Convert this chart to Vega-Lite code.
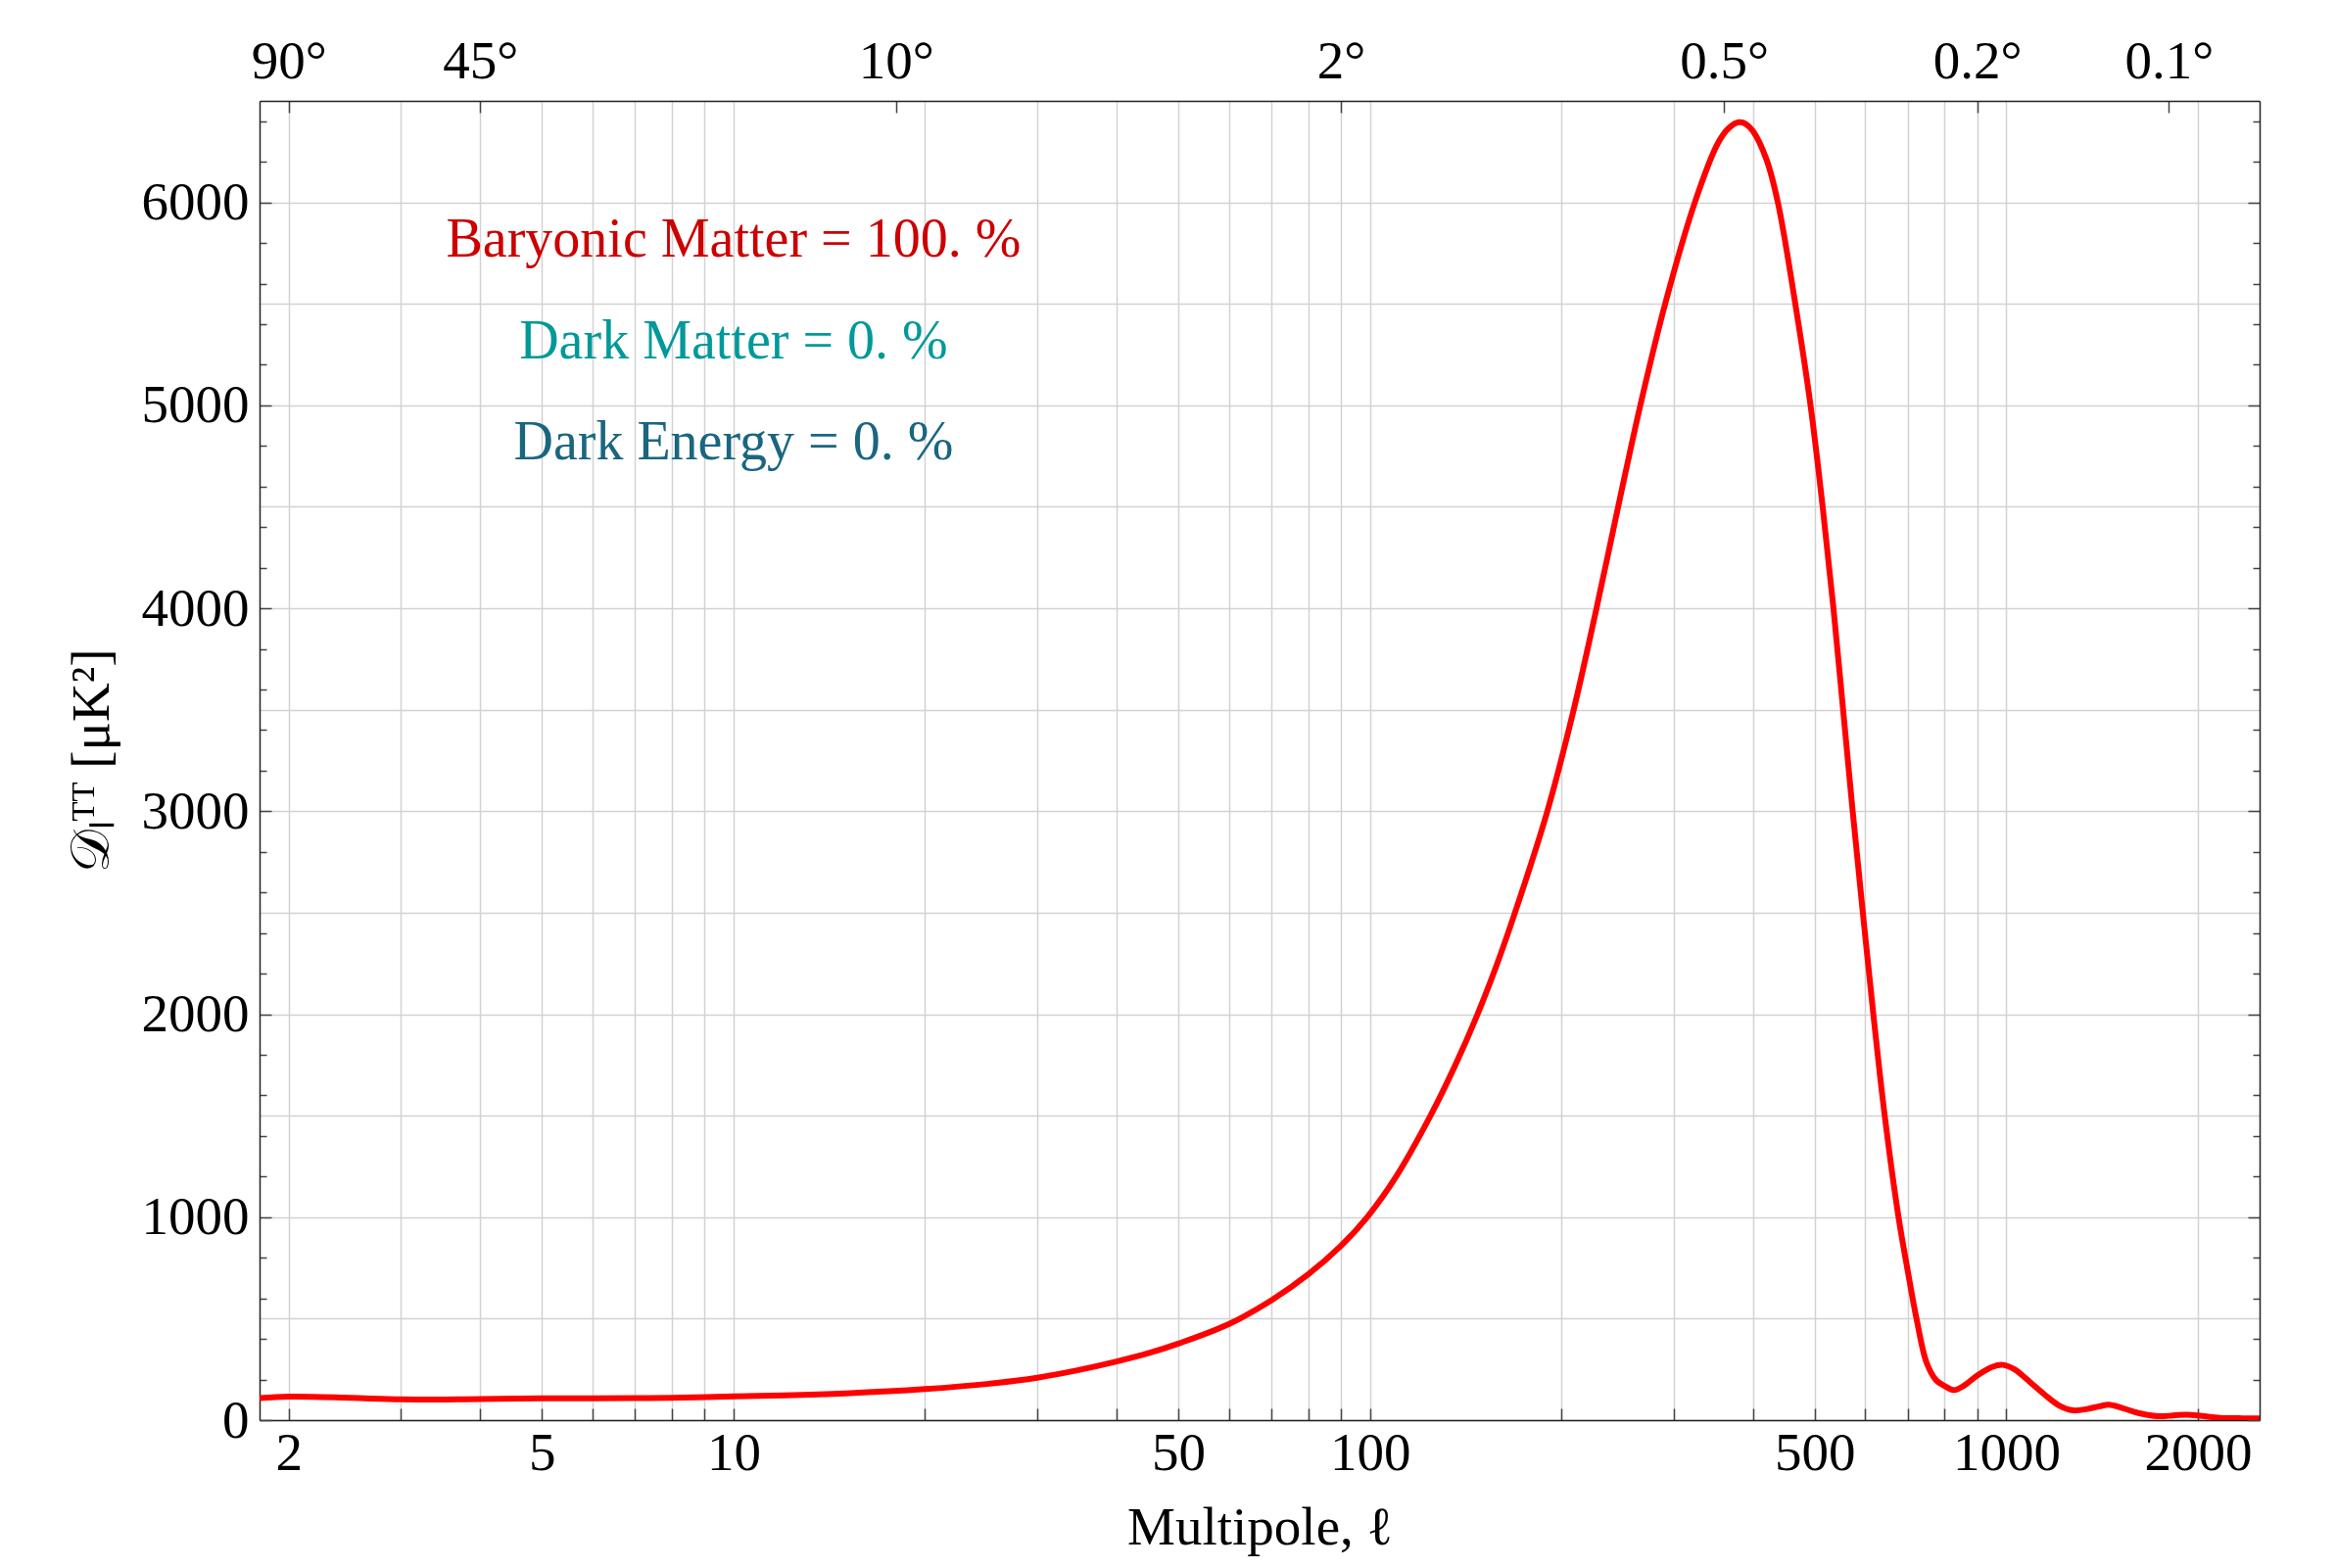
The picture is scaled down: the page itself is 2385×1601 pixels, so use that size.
{
  "$schema": "https://vega.github.io/schema/vega-lite/v6.json",
  "width": 2042,
  "height": 1347,
  "autosize": {"type": "none"},
  "padding": {"left": 265, "top": 103, "right": 78, "bottom": 151},
  "background": "white",
  "config": {
    "font": "Liberation Serif",
    "view": {"stroke": null}
  },
  "datasets": {
    "cl": [
      {"l": 1.8, "D": 108}, {"l": 2, "D": 116}, {"l": 2.5, "D": 110}, {"l": 3, "D": 102},
      {"l": 4, "D": 104}, {"l": 5, "D": 107}, {"l": 6, "D": 107}, {"l": 7, "D": 108},
      {"l": 8, "D": 110}, {"l": 10, "D": 117}, {"l": 12, "D": 122}, {"l": 15, "D": 132},
      {"l": 20, "D": 153}, {"l": 25, "D": 178}, {"l": 30, "D": 209}, {"l": 35, "D": 248},
      {"l": 40, "D": 289}, {"l": 45, "D": 331}, {"l": 50, "D": 377}, {"l": 60, "D": 473},
      {"l": 70, "D": 590}, {"l": 80, "D": 718}, {"l": 90, "D": 858}, {"l": 99, "D": 1000},
      {"l": 110, "D": 1201}, {"l": 124.5, "D": 1500}, {"l": 136, "D": 1745}, {"l": 147.6, "D": 2000},
      {"l": 158, "D": 2238}, {"l": 169, "D": 2500}, {"l": 190, "D": 3000}, {"l": 209, "D": 3500},
      {"l": 227, "D": 4000}, {"l": 245.5, "D": 4500}, {"l": 266, "D": 5000}, {"l": 291, "D": 5500},
      {"l": 324, "D": 6000}, {"l": 352, "D": 6290}, {"l": 366, "D": 6365}, {"l": 380, "D": 6395},
      {"l": 390, "D": 6385}, {"l": 400, "D": 6350}, {"l": 420, "D": 6210}, {"l": 437.5, "D": 6000},
      {"l": 466, "D": 5500}, {"l": 492.4, "D": 5000}, {"l": 514.5, "D": 4500}, {"l": 535, "D": 4000},
      {"l": 554, "D": 3500}, {"l": 573.5, "D": 3000}, {"l": 595, "D": 2500}, {"l": 618, "D": 2000},
      {"l": 644, "D": 1500}, {"l": 677, "D": 1000}, {"l": 700, "D": 735}, {"l": 722.5, "D": 500},
      {"l": 749, "D": 285}, {"l": 776, "D": 196}, {"l": 800, "D": 168}, {"l": 828, "D": 148},
      {"l": 860, "D": 172}, {"l": 900, "D": 220}, {"l": 950, "D": 262}, {"l": 988, "D": 272},
      {"l": 1030, "D": 250}, {"l": 1067, "D": 212}, {"l": 1110, "D": 165}, {"l": 1158, "D": 116},
      {"l": 1210, "D": 72}, {"l": 1273, "D": 48}, {"l": 1340, "D": 55}, {"l": 1400, "D": 68},
      {"l": 1449, "D": 76}, {"l": 1520, "D": 60}, {"l": 1612, "D": 35}, {"l": 1730, "D": 19},
      {"l": 1830, "D": 23}, {"l": 1924, "D": 27}, {"l": 2030, "D": 20}, {"l": 2165, "D": 11},
      {"l": 2350, "D": 9}, {"l": 2500, "D": 8}
    ],
    "notes": [
      {"l": 10, "D": 5733, "component": "Baryonic Matter", "label": "Baryonic Matter = 100. %"},
      {"l": 10, "D": 5233, "component": "Dark Matter", "label": "Dark Matter = 0. %"},
      {"l": 10, "D": 4733, "component": "Dark Energy", "label": "Dark Energy = 0. %"}
    ]
  },
  "layer": [
    {
      "data": {"name": "cl"},
      "mark": {"type": "line", "color": "#ff0000", "strokeWidth": 6, "interpolate": "catmull-rom", "clip": true},
      "encoding": {
        "x": {
          "field": "l", "type": "quantitative",
          "scale": {"type": "log", "domain": [1.8, 2500], "nice": false},
          "axis": {
            "orient": "bottom",
            "values": [2,3,4,5,6,7,8,9,10,20,30,40,50,60,70,80,90,100,200,300,400,500,600,700,800,900,1000,2000],
            "format": "d",
            "labelExpr": "indexof([2,5,10,50,100,500,1000,2000], datum.value) >= 0 ? datum.label : ''",
            "labelFont": "Liberation Serif", "labelFontSize": 55, "labelColor": "#000000",
            "labelPadding": 19, "labelOverlap": false, "labelFlush": false, "labelBound": false,
            "tickSize": -12, "tickColor": "#444444", "tickWidth": 1.5,
            "domainColor": "#222222", "domainWidth": 1.5,
            "grid": true, "gridColor": "#d2d2d2", "gridWidth": 1.5,
            "title": "Multipole, ℓ", "titleFont": "Liberation Serif", "titleFontSize": 55,
            "titleFontWeight": "normal", "titleColor": "#000000", "titlePadding": 22
          }
        },
        "y": {
          "field": "D", "type": "quantitative",
          "scale": {"domain": [0, 6500], "nice": false, "zero": false},
          "axis": {
            "orient": "left",
            "values": [0,200,400,500,600,800,1000,1200,1400,1500,1600,1800,2000,2200,2400,2500,2600,2800,3000,3200,3400,3500,3600,3800,4000,4200,4400,4500,4600,4800,5000,5200,5400,5500,5600,5800,6000,6200,6400],
            "format": "d",
            "labelExpr": "datum.value % 1000 === 0 ? datum.label : ''",
            "labelFont": "Liberation Serif", "labelFontSize": 55, "labelColor": "#000000",
            "labelPadding": 23, "labelOverlap": false, "labelFlush": false, "labelBound": false,
            "tickSize": {"condition": {"test": "datum.value % 1000 === 0", "value": -12}, "value": -7},
            "tickOpacity": {"condition": {"test": "datum.value % 200 === 0", "value": 1}, "value": 0},
            "tickColor": "#444444", "tickWidth": 1.5,
            "domainColor": "#222222", "domainWidth": 1.5,
            "grid": true, "gridColor": "#d2d2d2", "gridWidth": 1.5,
            "gridOpacity": {"condition": {"test": "datum.value % 500 === 0", "value": 1}, "value": 0},
            "title": "𝒟ₗᵀᵀ [μK²]", "titleFont": "Liberation Serif", "titleFontSize": 55,
            "titleFontWeight": "normal", "titleColor": "#000000", "titlePadding": 22
          }
        }
      }
    },
    {
      "data": {"name": "notes"},
      "mark": {"type": "text", "font": "Liberation Serif", "fontSize": 56, "align": "center", "baseline": "alphabetic"},
      "encoding": {
        "x": {"field": "l", "type": "quantitative", "axis": null},
        "y": {"field": "D", "type": "quantitative", "axis": null},
        "text": {"field": "label"},
        "color": {
          "field": "component", "type": "nominal",
          "scale": {"domain": ["Baryonic Matter", "Dark Matter", "Dark Energy"], "range": ["#cc0000", "#009999", "#1a6680"]},
          "legend": null
        }
      }
    },
    {
      "data": {"name": "cl"},
      "mark": {"type": "line", "strokeOpacity": 0},
      "encoding": {
        "x": {
          "field": "l", "type": "quantitative",
          "axis": {
            "orient": "top",
            "values": [2, 4, 18, 90, 360, 900, 1800],
            "labelExpr": "(180 / datum.value) + '°'",
            "labelFont": "Liberation Serif", "labelFontSize": 55, "labelColor": "#000000",
            "labelPadding": 23.5, "labelOverlap": false, "labelFlush": false, "labelBound": false,
            "tickSize": -12, "tickColor": "#444444", "tickWidth": 1.5,
            "domainColor": "#222222", "domainWidth": 1.5,
            "grid": false, "title": null
          }
        },
        "y": {
          "field": "D", "type": "quantitative",
          "axis": {
            "orient": "right",
            "values": [0,200,400,600,800,1000,1200,1400,1600,1800,2000,2200,2400,2600,2800,3000,3200,3400,3600,3800,4000,4200,4400,4600,4800,5000,5200,5400,5600,5800,6000,6200,6400],
            "labels": false,
            "tickSize": {"condition": {"test": "datum.value % 1000 === 0", "value": -12}, "value": -7},
            "tickColor": "#444444", "tickWidth": 1.5,
            "domainColor": "#222222", "domainWidth": 1.5,
            "grid": false, "title": null
          }
        }
      }
    }
  ],
  "resolve": {"axis": {"x": "independent", "y": "independent"}}
}
